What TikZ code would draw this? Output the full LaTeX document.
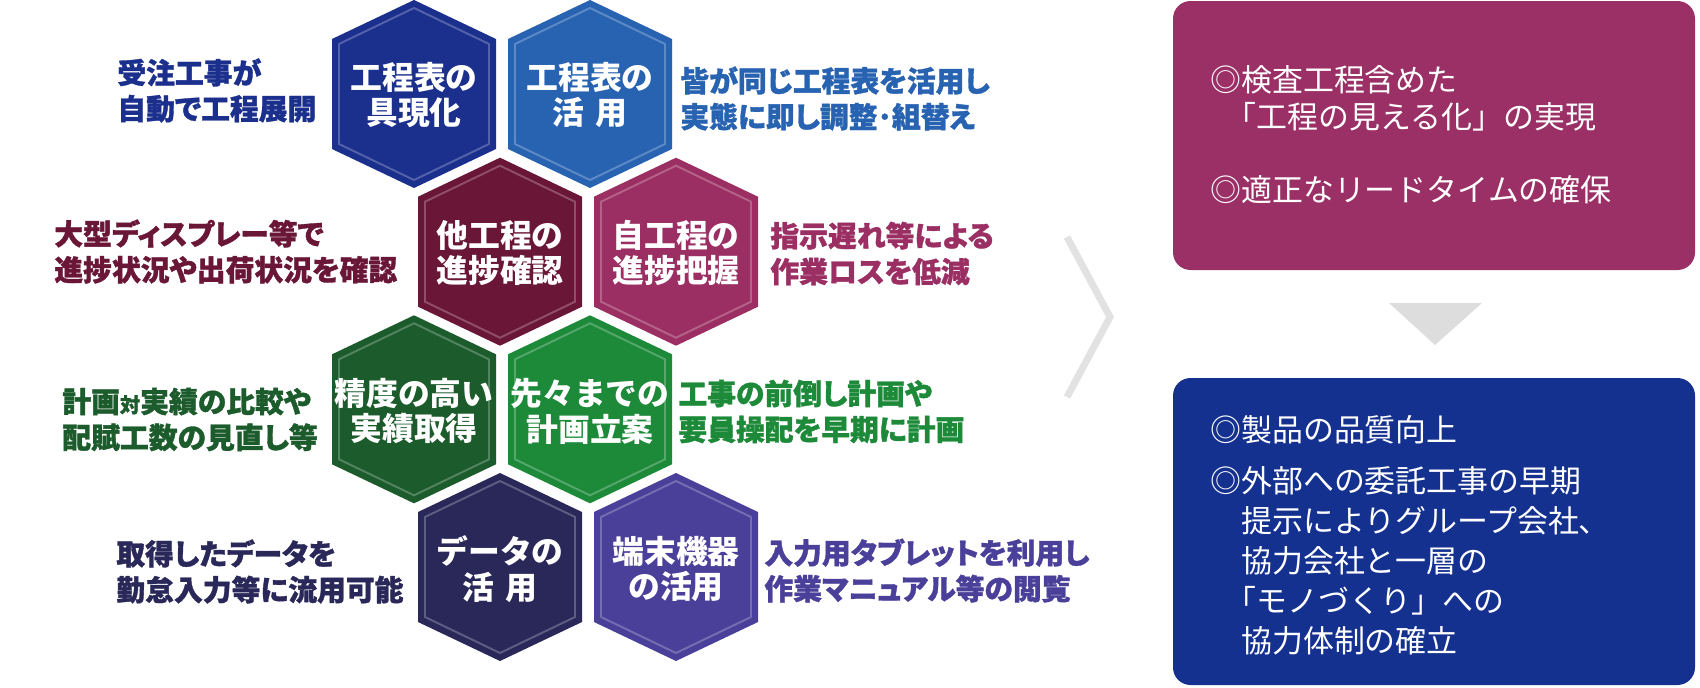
\documentclass[tikz,border=0pt]{standalone}
\usepackage{fontspec}
\newfontfamily\jp{Noto Sans CJK JP}
\newfontfamily\jph{Noto Sans CJK JP}[BoldFeatures={FakeBold=1.2}, RawFeature=+palt]
\definecolor{cA}{HTML}{1B2F8D}
\definecolor{cB}{HTML}{2863B2}
\definecolor{cC}{HTML}{6A1636}
\definecolor{cD}{HTML}{9B2F63}
\definecolor{cE}{HTML}{1C5B2B}
\definecolor{cF}{HTML}{1D8A3A}
\definecolor{cG}{HTML}{2A2859}
\definecolor{cH}{HTML}{4A3F99}
\definecolor{boxM}{HTML}{9A3066}
\definecolor{boxB}{HTML}{14318F}
\definecolor{chev}{HTML}{E2E2E2}
\definecolor{tri}{HTML}{DDDDDD}
\newcommand{\hexcell}[3]{% x, y, colour
  \begin{scope}[shift={(#1,#2)}]
    \fill[#3] (0,-94) -- (82,-55) -- (82,55) -- (0,94) -- (-82,55) -- (-82,-55) -- cycle;
    \draw[#3!55!white, opacity=0.55, line width=1.1pt, line join=miter]
      (0,-86) -- (75,-50) -- (75,50) -- (0,86) -- (-75,50) -- (-75,-50) -- cycle;
  \end{scope}}
\begin{document}
\begin{tikzpicture}[x=0.02cm, y=-0.02cm,
  lab/.style={inner sep=0pt, anchor=west, align=left, font=\jph\bfseries\fontsize{16.4}{20.4}\selectfont},
  hext/.style={inner sep=0pt, align=center, text=white, font=\jp\bfseries\fontsize{18.1}{20.4}\selectfont},
  boxt/.style={inner sep=0pt, anchor=west, align=left, text=white, font=\jp\fontsize{17.6}{21}\selectfont},
  rbox/.style={rounded corners=10pt}]
\useasboundingbox (0,0) rectangle (1700,687);

% hexagons
\hexcell{414}{94}{cA}
\hexcell{590}{94}{cB}
\hexcell{500}{251.7}{cC}
\hexcell{676}{251.7}{cD}
\hexcell{414}{409.3}{cE}
\hexcell{590}{409.3}{cF}
\hexcell{500}{567}{cG}
\hexcell{676}{567}{cH}

\node[hext] (h1) at (414,95) {工程表の\\具現化};
\node[hext] (h2) at (590,95) {工程表の\\活\hspace{0.35em}用};
\node[hext] (h3) at (500,253) {他工程の\\進捗確認};
\node[hext] (h4) at (676,253) {自工程の\\進捗把握};
\node[hext] (h5) at (414,411) {精度の高い\\実績取得};
\node[hext] (h6) at (590,411) {先々までの\\計画立案};
\node[hext] (h7) at (500,569) {データの\\活\hspace{0.35em}用};
\node[hext] (h8) at (676,569) {端末機器\\の活用};

% side labels
\node[lab, text=cA] (l1) at (117,90.5) {受注工事が\\自動で工程展開};
\node[lab, text=cC] (l3) at (54,251.5) {大型ディスプレー等で\\進捗状況や出荷状況を確認};
\node[lab, text=cE] (l5) at (62,419.5) {計画{\fontsize{11.5}{14}\selectfont 対}実績の比較や\\配賦工数の見直し等};
\node[lab, text=cG] (l7) at (116,571.5) {取得したデータを\\勤怠入力等に流用可能};
\node[lab, text=cB] (r2) at (680,98.5) {皆が同じ工程表を活用し\\実態に即し調整･組替え};
\node[lab, text=cD] (r4) at (770,253.5) {指示遅れ等による\\作業ロスを低減};
\node[lab, text=cF] (r6) at (678,411.5) {工事の前倒し計画や\\要員操配を早期に計画};
\node[lab, text=cH] (r8) at (764,570.5) {入力用タブレットを利用し\\作業マニュアル等の閲覧};

% chevron
\coordinate (cv1) at (1067,237);
\coordinate (cv2) at (1110,317);
\coordinate (cv3) at (1067,397);
\draw[chev, line width=4pt, line join=miter] (cv1) -- (cv2) -- (cv3);

% result boxes
\fill[boxM, rbox] (1173,1) rectangle (1695,270);
\fill[boxB, rbox] (1173,378) rectangle (1695,685);
\node[boxt] (m) at (1210,135) {◎検査工程含めた\\\hspace{0.5em}「工程の見える化」の実現\\[20.4pt]◎適正なリードタイムの確保};
\fill[tri] (1389,303) -- (1482,303) -- (1435,345) -- cycle;
\node[boxt, font=\jp\fontsize{17.6}{22.7}\selectfont] (b) at (1210,535) {◎製品の品質向上\\[6.8pt]◎外部への委託工事の早期\\\phantom{◎}提示によりグループ会社、\\\phantom{◎}協力会社と一層の\\\hspace{0.5em}「モノづくり」への\\\phantom{◎}協力体制の確立};
\end{tikzpicture}
\end{document}
